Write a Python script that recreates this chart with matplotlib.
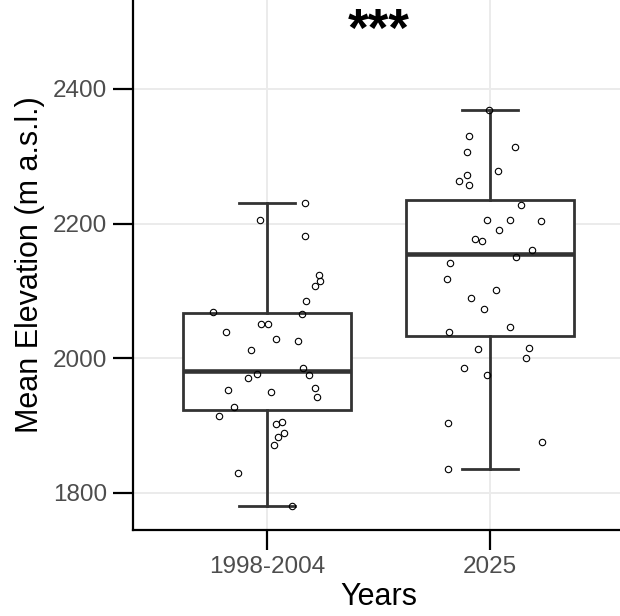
import numpy as np
import matplotlib
matplotlib.use('Agg')
import matplotlib.pyplot as plt

plt.rcParams['font.family'] = ['Liberation Sans', 'DejaVu Sans']

# categories and point values
groups = ['1998-2004', '2025']

elev_early = [2230, 2205, 2182, 2123, 2115, 2108, 2085, 2069, 2066, 2051, 2051,
              2039, 2028, 2025, 2013, 1986, 1975, 1977, 1971, 1956, 1953, 1950,
              1942, 1927, 1914, 1906, 1902, 1889, 1883, 1871, 1829, 1780]
jit_early = [0.172, -0.031, 0.172, 0.233, 0.239, 0.215, 0.175, -0.243, 0.157,
             -0.026, 0.003, -0.185, 0.042, 0.140, -0.073, 0.163, 0.187, -0.043,
             -0.084, 0.214, -0.174, 0.017, 0.226, -0.147, -0.214, 0.069, 0.039,
             0.078, 0.051, 0.033, -0.131, 0.112]

elev_2025 = [2368, 2330, 2306, 2313, 2278, 2272, 2263, 2257, 2227, 2205, 2206,
             2204, 2191, 2177, 2174, 2161, 2150, 2141, 2117, 2101, 2089, 2073,
             2047, 2039, 2014, 2015, 2000, 1985, 1975, 1904, 1876, 1836]
jit_2025 = [-0.004, -0.096, -0.102, 0.112, 0.037, -0.104, -0.139, -0.093, 0.138,
            -0.012, 0.091, 0.227, 0.040, -0.069, -0.037, 0.188, 0.118, -0.181,
            -0.193, 0.028, -0.085, -0.028, 0.088, -0.184, -0.054, 0.176, 0.161,
            -0.117, -0.015, -0.187, 0.233, -0.190]

signif = '***'


def main():
    fig = plt.figure(figsize=(6.2, 6.16), dpi=100)
    ax = fig.add_axes([0.2145, 0.1396, 0.792, 0.8604])

    data = [elev_early, elev_2025]
    box_col = '#333333'
    ax.boxplot(data, positions=[1, 2], widths=0.75, whis=1.5,
               showfliers=False, patch_artist=True,
               boxprops=dict(facecolor='white', edgecolor=box_col, linewidth=2.0),
               whiskerprops=dict(color=box_col, linewidth=2.0),
               capprops=dict(color=box_col, linewidth=2.0),
               medianprops=dict(color=box_col, linewidth=3.3),
               capwidths=0.25, zorder=2)

    for pos, vals, jit in [(1, elev_early, jit_early), (2, elev_2025, jit_2025)]:
        xs = pos + np.array(jit)
        ax.plot(xs, vals, 'o', ms=4.6, mfc='none', mec='black', mew=0.8, zorder=3)

    ax.set_xlim(0.4, 2.6)
    ax.set_ylim(1745, 2532)
    ax.set_xticks([1, 2])
    ax.set_xticklabels(groups)
    ax.set_yticks([1800, 2000, 2200, 2400])

    ax.grid(True, color='#EBEBEB', linewidth=1.4, zorder=0)
    ax.set_axisbelow(True)
    for s in ['top', 'right']:
        ax.spines[s].set_visible(False)
    for s in ['left', 'bottom']:
        ax.spines[s].set_linewidth(1.6)
        ax.spines[s].set_color('black')

    ax.tick_params(axis='both', length=14.5, width=1.6, color='black',
                   labelsize=17.5, labelcolor='#4D4D4D', pad=4)

    ax.set_xlabel('Years', fontsize=22, labelpad=3)
    ax.set_ylabel('Mean Elevation (m a.s.l.)', fontsize=22, labelpad=6)

    ax.text(1.5, 2522, signif, ha='center', va='top', fontsize=38,
            fontweight='bold')

    fig.savefig('out.png', dpi=100)


if __name__ == "__main__":
    main()
